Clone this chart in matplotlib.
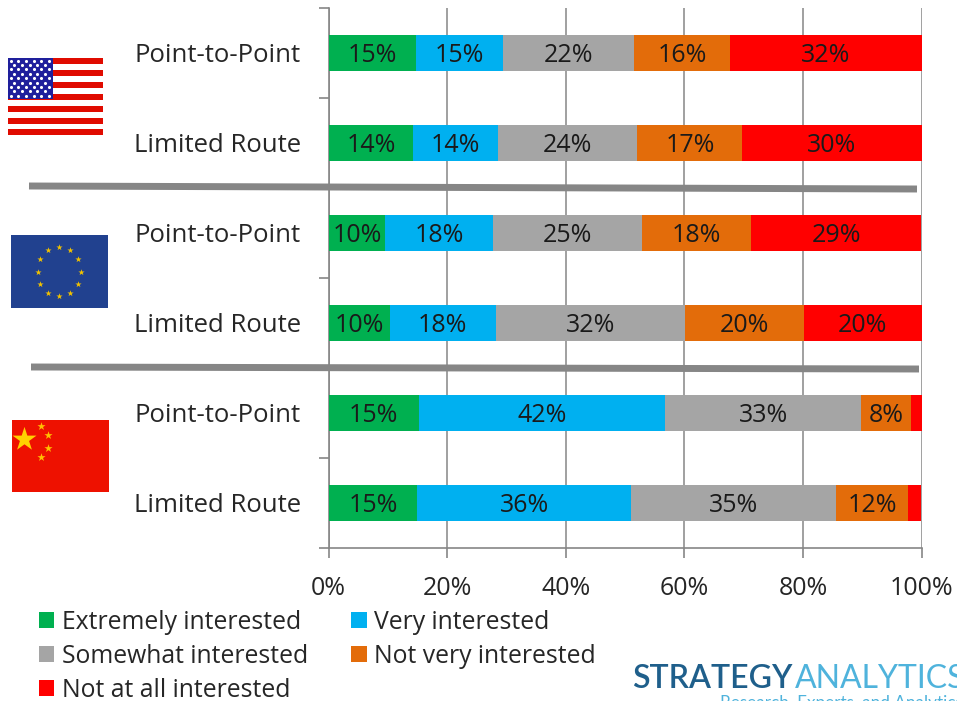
import numpy as np
import matplotlib
matplotlib.use('Agg')
import matplotlib.pyplot as plt
from matplotlib.patches import Rectangle

plt.rcParams['font.family'] = ['Open Sans', 'DejaVu Sans']

# values, top row first
categories = ['Point-to-Point', 'Limited Route', 'Point-to-Point', 'Limited Route', 'Point-to-Point', 'Limited Route']
series_names = ['Extremely interested', 'Very interested', 'Somewhat interested', 'Not very interested', 'Not at all interested']
extremely = [14.8, 14.3, 9.6, 10.3, 15.3, 15.0]
very = [14.7, 14.2, 18.2, 17.9, 41.5, 36.0]
somewhat = [22.0, 23.6, 25.0, 32.0, 33.0, 34.6]
not_very = [16.2, 17.7, 18.4, 20.0, 8.4, 12.1]
not_at_all = [32.3, 30.2, 28.8, 19.8, 1.8, 2.3]
labels_extremely = ['15%', '14%', '10%', '10%', '15%', '15%']
labels_very = ['15%', '14%', '18%', '18%', '42%', '36%']
labels_somewhat = ['22%', '24%', '25%', '32%', '33%', '35%']
labels_not_very = ['16%', '17%', '18%', '20%', '8%', '12%']
labels_not_at_all = ['32%', '30%', '29%', '20%', '', '']
x_ticks = [0, 20, 40, 60, 80, 100]
x_tick_labels = ['0%', '20%', '40%', '60%', '80%', '100%']
colors = ['#00B050', '#00B0F0', '#A5A5A5', '#E36C0A', '#FF0000']

W, H = 957, 701
fig = plt.figure(figsize=(W / 100, H / 100), dpi=100)
ax = fig.add_axes([328.5 / W, 1 - 548 / H, (921.5 - 328.5) / W, 540 / H])

series = [extremely, very, somewhat, not_very, not_at_all]
series_labels = [labels_extremely, labels_very, labels_somewhat, labels_not_very, labels_not_at_all]
y = np.arange(len(categories))
left = np.zeros(len(categories))
bars = []
for vals, lab, col, name in zip(series, series_labels, colors, series_names):
    b = ax.barh(y, vals, left=left, height=0.41, color=col, label=name, zorder=3)
    for t in ax.bar_label(b, labels=lab, label_type='center', fontsize=18, color='#1a1a1a', zorder=4):
        t.set_va('center_baseline')
    bars.append(b)
    left += np.array(vals)

ax.set_xlim(0, 100)
ax.set_ylim(5.5, -0.5)
ax.set_xticks(x_ticks)
ax.set_xticklabels(x_tick_labels, fontsize=18, color='#262626')
ax.set_yticks(y)
ax.set_yticklabels(categories, fontsize=18.5, color='#262626', va='center_baseline')
ax.set_yticks(np.arange(-0.5, 6, 1), minor=True)
ax.tick_params(axis='y', which='major', length=0, pad=20)
ax.tick_params(axis='y', which='minor', length=7, width=1.2, color='#868686')
ax.tick_params(axis='x', length=7, width=1.2, color='#868686', pad=13)
ax.grid(axis='x', color='#868686', lw=1.1, zorder=0)
for s in ['top', 'right']:
    ax.spines[s].set_visible(False)
for s in ['left', 'bottom']:
    ax.spines[s].set_color('#868686')
    ax.spines[s].set_linewidth(1.2)

# legend, order so it reads row by row
order = [0, 2, 4, 1, 3]
fig.legend([bars[i] for i in order], [series_names[i] for i in order], ncol=2, frameon=False,
           fontsize=17.8, labelcolor='#262626', loc='upper left', bbox_to_anchor=(39 / W, 1 - 610 / H),
           bbox_transform=fig.transFigure, borderpad=0, borderaxespad=0, handlelength=0.62,
           handleheight=0.62, handletextpad=0.3, labelspacing=0.36, columnspacing=1.75)

# overlay in pixels for flags, separators and logo
ov = fig.add_axes([0, 0, 1, 1], zorder=5)
ov.set_xlim(0, W)
ov.set_ylim(H, 0)
ov.axis('off')
ov.patch.set_alpha(0)

ov.plot([29, 917], [186, 189], color='#868686', lw=5, solid_capstyle='butt')
ov.plot([31, 919], [367, 369], color='#868686', lw=5, solid_capstyle='butt')

# US flag
for top in [58, 70, 82, 94, 105.5, 117.5, 129]:
    ov.add_patch(Rectangle((8, top), 95, 6, color='#E00B00', lw=0))
ov.add_patch(Rectangle((8, 58), 45, 41, color='#1F1F9C', lw=0))
star_x, star_y = [], []
for r in range(9):
    offs = 0 if r % 2 == 0 else 3.7
    n = 6 if r % 2 == 0 else 5
    for c in range(n):
        star_x.append(10.7 + offs + c * 7.6)
        star_y.append(60.5 + r * 4.4)
ov.scatter(star_x, star_y, s=5, c='white', lw=0)

# EU flag
ov.add_patch(Rectangle((10.5, 234.5), 97, 73.5, color='#21418F', lw=0))
ang = np.deg2rad(np.arange(0, 360, 30))
ov.scatter(59 + 21.5 * np.cos(ang), 271.5 + 24.5 * np.sin(ang), s=22, marker='*', c='#F2C200', lw=0)

# China flag
ov.add_patch(Rectangle((12, 420), 96.5, 71.5, color='#EE1100', lw=0))
ov.scatter([24], [439], s=330, marker='*', c='#FFD000', lw=0)
ov.scatter([41, 48, 48, 41], [426, 435, 448, 456.5], s=38, marker='*', c='#FFC000', lw=0)

# logo, runs off the right and bottom edge like the source image
ov.text(632, 688, 'STRATEGY', fontsize=23, fontweight='semibold', color='#1F5F8B', family='Lato', va='baseline')
ov.text(795, 688, 'ANALYTICS', fontsize=23, color='#4FB3DC', family='Lato', va='baseline', clip_on=True)
ov.text(720, 708, 'Research, Experts, and Analytics', fontsize=12.3, color='#4FB3DC', family='Lato', va='baseline', clip_on=True)

fig.savefig('out.png', dpi=100)
